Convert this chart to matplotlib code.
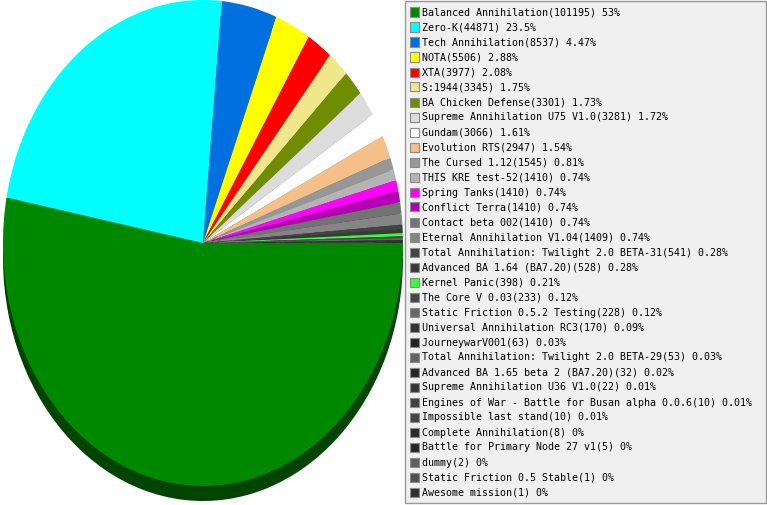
import numpy as np
import matplotlib
matplotlib.use("Agg")
import matplotlib.pyplot as plt
from matplotlib.patches import Rectangle
from matplotlib.colors import to_rgb

#------------------------------data-------------------------------------
names = ["Balanced Annihilation", "Zero-K", "Tech Annihilation", "NOTA", "XTA",
         "S:1944", "BA Chicken Defense", "Supreme Annihilation U75 V1.0",
         "Gundam", "Evolution RTS", "The Cursed 1.12", "THIS KRE test-52",
         "Spring Tanks", "Conflict Terra", "Contact beta 002",
         "Eternal Annihilation V1.04",
         "Total Annihilation: Twilight 2.0 BETA-31",
         "Advanced BA 1.64 (BA7.20)", "Kernel Panic", "The Core V 0.03",
         "Static Friction 0.5.2 Testing", "Universal Annihilation RC3",
         "JourneywarV001", "Total Annihilation: Twilight 2.0 BETA-29",
         "Advanced BA 1.65 beta 2 (BA7.20)", "Supreme Annihilation U36 V1.0",
         "Engines of War - Battle for Busan alpha 0.0.6",
         "Impossible last stand", "Complete Annihilation",
         "Battle for Primary Node 27 v1", "dummy",
         "Static Friction 0.5 Stable", "Awesome mission"]
counts = [101195, 44871, 8537, 5506, 3977, 3345, 3301, 3281, 3066, 2947,
          1545, 1410, 1410, 1410, 1410, 1409, 541, 528, 398, 233, 228, 170,
          63, 53, 32, 22, 10, 10, 8, 5, 2, 1, 1]
pct_labels = ["53%", "23.5%", "4.47%", "2.88%", "2.08%", "1.75%", "1.73%",
              "1.72%", "1.61%", "1.54%", "0.81%", "0.74%", "0.74%", "0.74%",
              "0.74%", "0.74%", "0.28%", "0.28%", "0.21%", "0.12%", "0.12%",
              "0.09%", "0.03%", "0.03%", "0.02%", "0.01%", "0.01%", "0.01%",
              "0%", "0%", "0%", "0%", "0%"]
colors = ["#008800", "#00ffff", "#0070e0", "#ffff00", "#ff0000", "#f0e68c",
          "#708c00", "#dcdcdc", "#ffffff", "#f4c088", "#979797", "#b4b4b4",
          "#ff00ff", "#b400b4", "#737373", "#858585", "#444444", "#393939",
          "#33ff33", "#454545", "#666666", "#333333", "#242424", "#636363",
          "#262626", "#363636", "#404040", "#444444", "#2a2a2a", "#262626",
          "#5f5f5f", "#505050", "#303030"]
#-----------------------------------------------------------------------

W, H = 767, 505
fig = plt.figure(figsize=(W / 100, H / 100), dpi=100)
fig.patch.set_facecolor("white")

# pie occupies x 3..403 px, ellipse centre y 243 px, ry 243 px
rx, ry, cy = 200.0, 243.0, 243.0
ax = fig.add_axes([3 / W, 0, 2 * rx / W, 1])
depth = 15.0 / ry

# side of the "3d" pie: darker copy shifted down
dark = [tuple(0.5 * c for c in to_rgb(col)) for col in colors]
ax.pie(counts, colors=dark, startangle=0, counterclock=False,
       center=(0, -depth), radius=1, wedgeprops=dict(linewidth=0))
ax.pie(counts, colors=colors, startangle=0, counterclock=False,
       center=(0, 0), radius=1, wedgeprops=dict(linewidth=0))
ax.set_aspect("auto")
ax.set_xlim(-1, 1)
ax.set_ylim(1 - H / ry, 1)
ax.axis("off")

# legend box
lx0, ly0, lx1, ly1 = 405, 1, 766, 503
fig.patches.append(Rectangle((lx0 / W, 1 - ly1 / H), (lx1 - lx0) / W,
                             (ly1 - ly0) / H, transform=fig.transFigure,
                             facecolor="#f0f0f0", edgecolor="#999999",
                             linewidth=1, zorder=5))

row0, step = 12, 15
for i, (n, c, p, col) in enumerate(zip(names, counts, pct_labels, colors)):
    yc = row0 + i * step
    fig.patches.append(Rectangle((410 / W, 1 - (yc + 4.5) / H), 9 / W, 9 / H,
                                 transform=fig.transFigure, facecolor=col,
                                 edgecolor="#8c8c8c", linewidth=0.8,
                                 zorder=6))
    fig.text(422 / W, 1 - (yc + 0.5) / H, "%s(%d) %s" % (n, c, p),
             family="DejaVu Sans Mono", fontsize=7.2, color="black",
             va="center", ha="left", zorder=7)

fig.savefig("out.png", dpi=100)
